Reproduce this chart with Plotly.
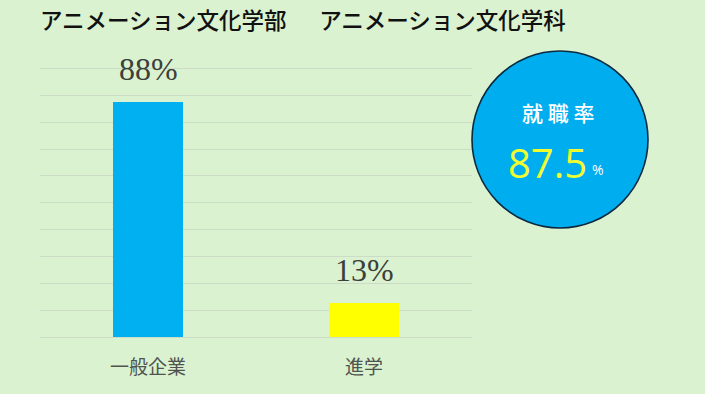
import plotly.graph_objects as go

# ---- data ----
categories = ["一般企業", "進学"]
values = [87.5, 12.5]
value_labels = ["88%", "13%"]
bar_colors = ["#00B0F0", "#FFFF00"]
employment_rate = 87.5
title_text = "アニメーション文化学部　  アニメーション文化学科"

BG = "#DAF2D0"
GRID = "#CCDCC6"

W, H = 705, 394
ML, MR, MT, MB = 40, 233, 55, 57
PW = W - ML - MR
PH = H - MT - MB


def px_to_paper_x(px):
    return (px - ML) / PW


def px_to_paper_y(py):
    return (H - MB - py) / PH


fig = go.Figure()
fig.add_trace(go.Bar(
    x=categories,
    y=values,
    marker=dict(color=bar_colors, line=dict(width=0)),
    width=0.32,
    hoverinfo="skip",
))

annotations = []
for c, v, lab in zip(categories, values, value_labels):
    annotations.append(dict(
        x=c, y=v, xref="x", yref="y", text=lab, showarrow=False,
        yshift=33, yanchor="middle",
        font=dict(family="Liberation Serif", size=32, color="#3C403A"),
    ))

# circle badge texts
annotations.append(dict(
    x=px_to_paper_x(558), y=px_to_paper_y(112), xref="paper", yref="paper",
    text="就 職 率", showarrow=False, xanchor="center", yanchor="middle",
    font=dict(family="Noto Sans CJK JP", size=21, color="#FFFFFF", weight=500),
))
annotations.append(dict(
    x=px_to_paper_x(589), y=px_to_paper_y(162), xref="paper", yref="paper",
    text=f"{employment_rate}", showarrow=False, xanchor="right", yanchor="middle",
    font=dict(family="Open Sans", size=40, color="#F0FF30", weight=500),
))
annotations.append(dict(
    x=px_to_paper_x(590), y=px_to_paper_y(169), xref="paper", yref="paper",
    text="%", showarrow=False, xanchor="left", yanchor="middle",
    font=dict(family="Open Sans", size=14, color="#FFFFFF"),
))

fig.update_layout(
    width=W, height=H,
    margin=dict(l=ML, r=MR, t=MT, b=MB),
    paper_bgcolor=BG, plot_bgcolor=BG,
    showlegend=False,
    bargap=0,
    title=dict(
        text=title_text, x=0, xref="paper", xanchor="left",
        y=1 - 21 / H, yref="container", yanchor="middle",
        font=dict(family="Noto Sans CJK JP", size=22.5, color="#111111", weight=500),
    ),
    xaxis=dict(
        showgrid=False, showline=False, ticks="",
        tickfont=dict(family="Noto Sans CJK JP", size=19, color="#50544E"),
        ticklabelstandoff=17,
    ),
    yaxis=dict(
        range=[0, 105], dtick=10, showticklabels=False,
        showgrid=True, gridcolor=GRID, gridwidth=1.2,
        zeroline=True, zerolinecolor=GRID, zerolinewidth=1.2,
        showline=False, ticks="",
    ),
    annotations=annotations,
    shapes=[dict(
        type="circle", xref="paper", yref="paper",
        x0=px_to_paper_x(472), x1=px_to_paper_x(648),
        y0=px_to_paper_y(228), y1=px_to_paper_y(51),
        fillcolor="#00AEEF", line=dict(color="#0B2A40", width=1.6),
        layer="above",
    )],
)

fig.write_html(
    "out.html",
    config={"displayModeBar": False},
    post_script="document.body.style.margin='0';document.body.style.padding='0';",
)
